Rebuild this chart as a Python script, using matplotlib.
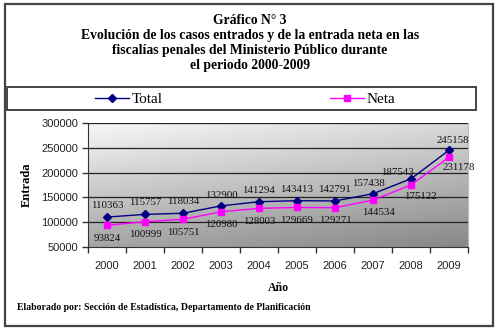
import matplotlib
matplotlib.use("Agg")
import matplotlib.pyplot as plt
import numpy as np
from matplotlib.patches import Rectangle
from matplotlib.lines import Line2D

years = ["2000", "2001", "2002", "2003", "2004", "2005", "2006", "2007", "2008", "2009"]
total = [110363, 115757, 118034, 132900, 141294, 143413, 142791, 157438, 187543, 245158]
neta = [93824, 100999, 105751, 120980, 128003, 129669, 129271, 144534, 175122, 231178]
yticks = [50000, 100000, 150000, 200000, 250000, 300000]

title = ("Gráfico N° 3\nEvolución de los casos entrados y de la entrada neta en las\n"
         "fiscalías penales del Ministerio Público durante\nel periodo 2000-2009")
footer = "Elaborado por: Sección de Estadística, Departamento de Planificación"

# label offsets (points)
tot_off = [(0, 5), (0, 5), (0, 5), (0, 4), (0, 5), (0, 5), (0, 5), (-3, 4), (-10, 1), (3, 4)]
net_off = [(0, -6), (0, -6), (0, -6), (0, -6), (0, -6), (0, -6), (0, -6), (4, -6), (7, -5), (7, -4)]

serif = "Liberation Serif"
sans = "Liberation Sans"

fig = plt.figure(figsize=(5, 3.33), dpi=100)
fig.patch.set_facecolor("white")

# outer border
fig.patches.append(Rectangle((5/500, 1-326/333), 488/500, 322/333, transform=fig.transFigure,
                             fill=False, edgecolor="#444444", linewidth=1.6))
# legend box
fig.patches.append(Rectangle((7/500, 1-110/333), 469/500, 23/333, transform=fig.transFigure,
                             fill=False, edgecolor="#444444", linewidth=1.4))

fig.text(0.5, 1-14/333, title, ha="center", va="top", fontsize=9.8, fontweight="bold",
         family=serif, linespacing=1.2)

ax = fig.add_axes([88/500, 1-247/333, 380/500, 124/333])
x = np.arange(len(years))

# gradient background
gx = np.linspace(0, 1, 200)
gy = np.linspace(0, 1, 100)
GX, GY = np.meshgrid(gx, gy)
val = 0.97 - 0.32 * GY - 0.12 * GX
ax.imshow(val, extent=[-0.5, 9.5, 50000, 300000], origin="upper", aspect="auto",
          cmap="gray", vmin=0, vmax=1, zorder=0, interpolation="bilinear")

for yv in yticks[1:]:
    ax.axhline(yv, color="#222222", linewidth=0.9, zorder=1)

ax.plot(x, total, color="#000080", marker="D", markersize=4, linewidth=1.0, zorder=3)
ax.plot(x, neta, color="#FF00FF", marker="s", markersize=5, linewidth=1.0, zorder=3)

for i in range(len(years)):
    ax.annotate(f"{total[i]}", (x[i], total[i]), xytext=tot_off[i], textcoords="offset points",
                ha="center", va="bottom", fontsize=7.8, family=serif, color="#111111", zorder=4)
    ax.annotate(f"{neta[i]}", (x[i], neta[i]), xytext=net_off[i], textcoords="offset points",
                ha="center", va="top", fontsize=7.8, family=serif, color="#111111", zorder=4)

ax.set_xlim(-0.5, 9.5)
ax.set_ylim(50000, 300000)
ax.set_yticks(yticks)
ax.set_yticklabels([str(v) for v in yticks], family=sans, fontsize=8, color="#222222")
ax.set_xticks(x)
ax.set_xticklabels(years, family=sans, fontsize=8, color="#222222")
ax.set_xticks(np.arange(-0.5, 10, 1), minor=True)
ax.tick_params(axis="x", which="major", length=0, pad=10)
ax.tick_params(axis="x", which="minor", length=4, width=1, color="#333333")
ax.tick_params(axis="y", length=4, width=1, color="#333333", pad=3)

ax.spines["top"].set_visible(False)
ax.spines["right"].set_color("#bbbbbb")
ax.spines["left"].set_color("#333333")
ax.spines["bottom"].set_color("#333333")

ax.set_ylabel("Entrada", family=serif, fontsize=9, fontweight="bold", labelpad=6)
fig.text(278/500, 1-288/333, "Año", ha="center", va="center", family=serif, fontsize=8.5,
         fontweight="bold")
fig.text(17/500, 1-308/333, footer, ha="left", va="center", family=serif, fontsize=7,
         fontweight="bold")

h1 = Line2D([], [], color="#000080", marker="D", markersize=4, linewidth=1.0)
h2 = Line2D([], [], color="#FF00FF", marker="s", markersize=5, linewidth=1.0)
fig.legend([h1], ["Total"], loc="center left", bbox_to_anchor=(95/500, 1-99/333),
           frameon=False, prop={"family": serif, "size": 11}, handlelength=2.2,
           handletextpad=0.2, borderpad=0, borderaxespad=0)
fig.legend([h2], ["Neta"], loc="center left", bbox_to_anchor=(330/500, 1-99/333),
           frameon=False, prop={"family": serif, "size": 11}, handlelength=2.2,
           handletextpad=0.2, borderpad=0, borderaxespad=0)

fig.savefig("out.png", dpi=100)
